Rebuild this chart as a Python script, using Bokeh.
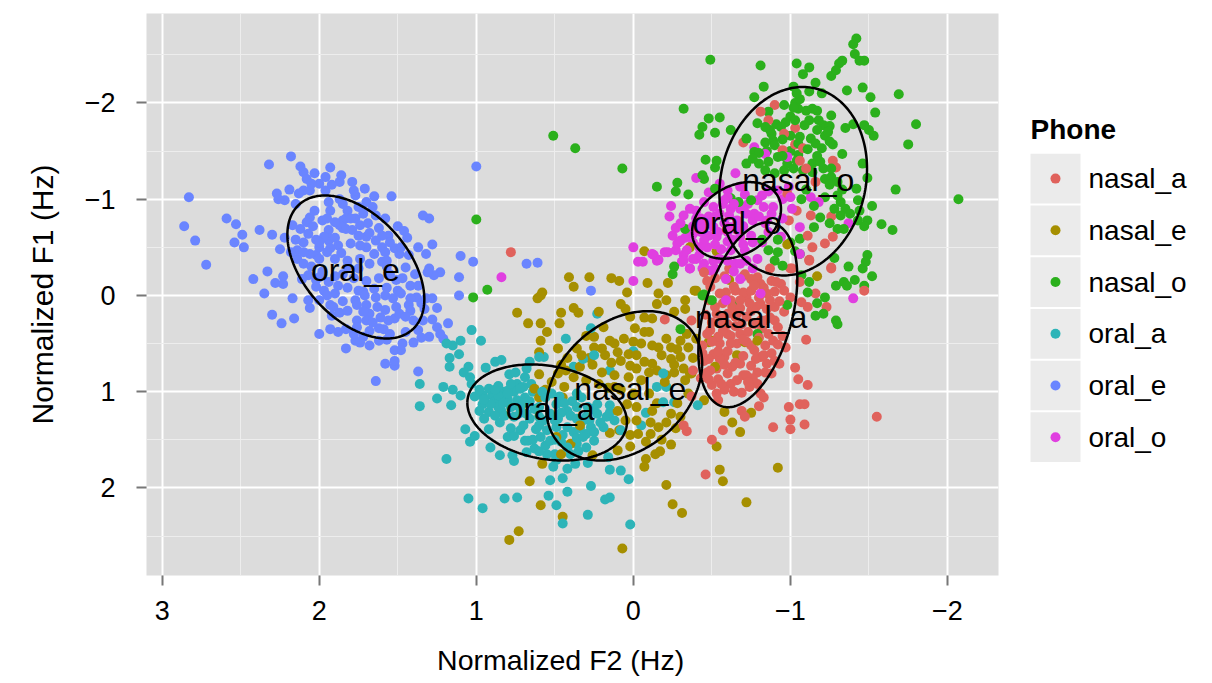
import numpy as np
from bokeh.plotting import figure
from bokeh.layouts import row
from bokeh.models import Range1d, FixedTicker
from bokeh.core.properties import value
from bokeh.embed import file_html
from bokeh.resources import INLINE

phones = ["nasal_a", "nasal_e", "nasal_o", "oral_a", "oral_e", "oral_o"]
colors = ["#E0625C", "#A68F00", "#2BB01C", "#2DB4B8", "#6A85FF", "#E03FE0"]
ticks_x = [3, 2, 1, 0, -1, -2]
ticks_y = [-2, -1, 0, 1, 2]

oral_e = [(2.18,-1.445),(2.32,-1.36),(2.83,-1.02),(2.86,-.72),(2.79,-.57),(2.72,-.32),(2.59,-.80),(2.53,-.74),(2.49,-.63),(2.54,-.55),(2.48,-.50),(2.38,-.68),(2.30,-.63),(2.22,-.60),(2.25,-.48),(2.42,-.17),(2.33,-.25),(2.23,-.20),(2.28,-.13),(2.23,-.12),(2.35,-.02),(2.17,.03),(2.30,.20),(2.24,.29),(2.16,.24),(2.00,.40),(1.93,.35),(1.88,.38),(1.83,.55),(1.77,.47),(1.68,.52),(1.52,.57),(1.58,.71),(1.52,.73),(1.52,.68),(1.64,.89),(1.37,.79),(1.18,.29),(1.11,.00),(1.11,-.19),(1.10,-.41),(1.28,-.53),(1.37,-.50),(1.32,-.43),(1.30,-.80),(1.34,-.83),(1.46,-.67),(1.54,-1.03),(1.65,-1.03),(1.71,-1.11),(1.79,-1.18),(1.86,-1.25),(1.87,-1.18),(1.93,-1.33),(2.12,-1.34),(2.03,-1.27),(1.96,-1.23),(2.19,-1.10),(2.27,-1.06),(2.26,-1.00),(2.22,-.99),
(2.10,-1.28),(2.08,-1.21),(2.05,-1.16),(2.00,-1.16),(2.10,-1.09),(2.06,-1.09),(2.13,-1.06),(1.96,-1.09),(1.94,-.97),(1.93,-.88),(2.03,-.88),(2.06,-.81),(1.82,-.88),(1.77,-1.04),(1.78,-1.09),(1.83,-.80),(1.77,-.80),(1.87,-.73),(1.83,-.69),(1.74,-.73),(1.69,-.75),(1.66,-.92),(1.64,-.83),(1.56,-.62),(1.64,-.57),(1.70,-.61),(1.74,-.52),(1.80,-.54),(1.88,-.52),(1.94,-.68),(1.97,-.61),(1.94,-.57),(2.00,-.50),(1.93,-.49),(2.07,-.64),(2.12,-.69),(2.17,-.73),(2.14,-.47),(2.10,-.45),(2.14,-.38),(2.06,-.43),(1.65,-.43),(1.58,-.45),(1.52,-.49),(1.49,-.43),(1.45,-.29),(1.57,-.36),(1.74,-.38),(1.82,-.36),(1.39,-.22),(1.37,-.10),(1.30,-.28),(1.23,-.24),(1.27,-.21),(1.31,-.24),(1.51,-.16),(2.07,-.21),(2.11,-.17),(2.02,-.09),(1.97,-.05),(1.90,-.02),(1.85,.06),(2.07,.05),(2.06,.13),(1.91,.12),(1.92,.21),(1.83,.35),(1.76,.26),(1.75,-.05),(1.77,.05),(1.71,.00),(1.64,.02),(1.58,.00),(1.53,.03),(1.48,-.02),(1.43,.10),(1.38,.02),(1.32,.03),(1.28,.03),(1.25,.13),(1.28,.25),(1.25,.33),(1.23,.40),(1.21,.45),(1.30,.43),(1.35,.44),(1.40,.49),(1.47,.50),(1.48,.57),(1.57,.46),(1.62,.47),(1.72,.43),(1.74,.49),(1.76,.10),(1.72,.17),(1.68,.19),(1.61,.23),(1.56,.26),(1.66,.28),(1.70,.26),(1.59,.35),(1.51,.12),(1.49,.19),(1.42,.16),(1.40,.26),(1.34,.26),(1.76,.33),(2.00,-.19),(1.94,-.14),(2.02,-.16),
(2.0,-.55),(1.95,-.62),(1.85,-.7),(1.75,-.62),(1.9,-.6),(1.62,-.7),(1.6,-.5),(1.79,-.68),(1.95,-.45),(2.02,-.58),(1.02,-.35),(.68,-.33),(.61,-.34),(.27,-.05),(1.0,-1.34),
(1.95,-.80),(1.90,-.76),(1.85,-.78),(1.80,-.80),(1.72,-.85),(1.68,-.65),(1.60,-.62),(1.55,-.55),(1.48,-.50),(1.43,-.42),(1.60,-.35),(1.68,-.33),(1.75,-.28),(1.82,-.30),(1.90,-.38),(2.00,-.38),(2.10,-.33),(2.05,-.30),(1.98,-.25),(1.90,-.20),(1.85,-.22),(1.78,-.18),(1.70,-.15),(1.62,-.18),(1.55,-.22),(1.47,-.18),(1.42,-.10),(1.50,-.05),(1.57,-.08),(1.65,-.07),(1.72,-.04),(1.82,-.08),(1.88,-.10),(1.95,.00),(2.00,.05),(1.93,.10),(1.87,.18),(1.82,.16),(1.70,.10),(1.63,.12),(1.58,.15),(1.45,.22),(1.52,.24),(1.62,.34),(1.55,.40),(1.45,.38),(1.37,.36),(1.33,.14),(1.35,.08),(1.42,.03),(1.68,.37),(1.78,.40),(2.10,-.55),(2.04,-.72),(1.98,-.78),(2.08,-.76),(2.15,-.58),(2.18,-.45),(2.02,-.42),(1.86,-.44),(1.70,-.50),(1.57,-.30),(1.44,-.60),(1.50,-.72),(1.58,-.80),(1.75,-.92),(1.85,-.95),(1.87,-1.00),(1.92,-1.15),(2.15,-.95),(1.70,-.97)]

oral_a = [(1.03,.36),(.97,.47),(1.10,.47),(1.19,.50),(1.15,.52),(1.17,.65),(1.11,.61),(1.17,.74),(1.05,.74),(1.08,.80),(1.04,.85),(.94,.75),(.88,.69),(.84,.67),(1.36,.92),(1.21,.95),(1.15,.98),(1.25,1.07),(1.36,1.15),(1.16,1.14),(1.10,1.04),(1.03,.92),(1.19,1.70),(1.05,2.11),(.96,2.21),(.82,2.11),(.74,2.10),(.54,2.08),(.42,2.04),(.49,2.18),(.29,2.28),(.45,2.37),(.02,2.38),(.15,2.10),(.18,2.12),(.27,1.98),(.03,1.91),(.08,1.82),(.15,1.81),(.53,1.92),(.45,1.90),(.29,1.74),(.16,1.68),(1.07,1.39),(1.04,1.52),(1.01,1.46),(.91,1.58),(.85,1.66),(.76,1.72),(.80,1.47),(.76,1.46),(.92,1.39),(.69,1.51),(.63,1.59),(.55,1.65),(.51,1.78),(.42,1.80),(.37,1.75),(.68,1.63),(.77,1.66),
(.66,.69),(.57,.64),(.60,.64),(.43,.45),(.23,.19),(.27,.34),(.32,.66),(.25,.62),(.38,.74),(.15,.78),(.00,.58),(-.19,.81),(-.15,.95),(-.21,.95),(-.26,1.11),(-.19,1.11),(-.08,1.22),(-.05,1.35),(-.41,1.14),(.15,1.14),
(.96,1.04),(.92,.97),(.86,.94),(.78,.92),(.74,.92),(.69,.85),(.68,.76),(.72,.97),(.69,1.06),(.80,.99),(.86,1.04),(.91,1.13),(.96,1.13),(.92,1.21),(.86,1.16),(.85,1.32),(.78,1.16),(.74,1.09),(.68,1.23),(.76,1.26),(.62,1.39),(.67,1.51),(.59,1.47),(.53,1.51),(.57,1.30),(.53,1.23),(.49,1.13),(.56,1.06),(.42,1.20),(.36,1.16),(.32,1.30),(.27,1.37),(.23,1.23),(.17,1.26),(.19,1.37),(.32,1.47),(.36,1.54),(.25,1.51),(.42,1.58),(.30,1.58),(.50,1.65),(.49,1.71),(.23,1.13),(.29,1.16),(.42,1.37),(.49,1.37),(.80,1.08),(.72,1.16),(.84,1.20),(.64,1.00),(.60,1.16),(.48,1.28),(.38,1.42),(.70,1.35),
(.98,.98),(.95,1.08),(.90,1.04),(.88,1.10),(.83,1.12),(.80,1.02),(.76,1.00),(.70,.95),(.65,.92),(.88,.98),(.82,1.00),(.83,1.06),(.75,1.14),(.70,1.12),(.66,1.10),(.63,1.18),(.88,1.25),(.82,1.25),(.72,1.22),(.66,1.28),(.60,1.26),(.60,1.35),(.55,1.40),(.50,1.30),(.46,1.22),(.44,1.12),(.39,1.10),(.40,1.25),(.36,1.28),(.34,1.38),(.30,1.26),(.26,1.18),(.21,1.32),(.25,1.42),(.30,1.44),(.36,1.48),(.45,1.45),(.50,1.50),(.56,1.56),(.46,1.52),(.60,1.62),(.64,1.50),(.72,1.40),(.78,1.38),(.95,1.28),(.98,1.20),(1.01,1.05),(.79,.82),(.75,.80),(.58,1.00),(.52,1.02),(.47,1.05),(.33,1.06),(.36,1.02),(.28,1.30),(.15,1.22),(.12,1.30),(.08,1.40),(.40,1.65),(.35,1.62)]

nasal_e = [(.41,-.19),(.28,-.19),(.38,-.09),(.14,-.18),(.09,-.15),(-.09,-.13),(-.22,-.13),(-.07,-.46),(.04,-.03),(-.40,-.05),(.58,-.03),(.61,.03),(.59,.00),(.74,.18),(.67,.29),(.59,.29),(.47,.29),(.46,.18),(.38,.13),(.35,.18),(.22,.17),(.08,.09),(.05,.14),(-.16,-.02),(-.21,.05),(-.15,.09),(-.33,.05),(-.33,.14),(-.26,.17),(.02,.22),(-.07,.23),(-.12,.24),(-.01,.34),(-.07,.38),(-.10,.38),(.55,.38),(.59,.47),(.60,.59),(.48,.55),(.36,.55),(.25,.43),(.19,.33),(.30,.42),(.15,.47),(.25,.54),(.18,.62),(.10,.59),(.03,.61),(-.21,.45),(-.16,.54),(-.24,.54),(-.30,.47),(-.35,.54),(-.30,.64),(-.24,.66),(-.07,.69),(-.12,.71),(.02,.73),(-.02,.76),(.26,.72),(.34,.74),(.60,.82),(.48,.81),(.38,.85),(.30,.88),(.20,.80),(.12,.83),(.03,.85),(-.05,.88),(-.26,.80),(-.21,.83),(-.33,.88),(-.37,.81),(.60,1.06),(.63,.97),(.44,.95),(.45,1.06),(.10,1.20),(.04,1.13),(-.02,1.16),(-.12,1.20),(-.24,1.23),(-.30,1.26),(-.11,1.32),(-.16,1.37),(-.21,1.32),(-.11,1.44),(-.03,1.44),(.15,1.43),(.09,1.40),(.49,1.47),(.34,1.35),(.40,1.54),(.46,1.65),(.26,1.66),(.10,1.61),(.02,1.57),(-.14,1.65),(-.17,1.62),(-.24,1.55),(-.08,1.70),(-.07,1.78),(.58,1.75),(.66,1.93),(-.21,1.97),(-.25,2.17),(-.31,2.26),(.59,2.18),(.45,2.30),(.73,2.45),(.79,2.54),(.07,2.63),(-.53,1.57),(-.55,1.81),(-.57,1.93),(-.58,1.21),(-.45,1.09),(-.50,.47),(-.52,.74),
(-.63,1.32),(-.68,1.42),(-.75,1.22),(-.92,1.79),(-.72,2.15),(-.48,.485),(-.66,.62),(-.71,.485),(-.79,.47),(-.61,-.16),(-.39,-.05),(-.36,.81),(-.36,-.50),(-.53,-.46),(-.98,-.53),(-1.17,-.20),
(-.12,.52),(-.05,.50),(.00,.48),(.06,.45),(.12,.50),(.20,.55),(.28,.65),(.33,.62),(.42,.65),(.46,.72),(.14,.70),(.08,.68),(-.02,.62),(-.18,.62),(-.26,.72),(-.32,.76),(-.28,.56),(-.34,.40),(-.38,.65),(-.40,.45),(-.10,.80),(-.15,.78),(-.20,.90),(-.10,1.02),(.00,1.02),(.08,.98),(.16,.96),(.22,.92),(-.28,1.12),(-.35,1.02),(-.15,1.12),(-.27,1.38),(-.02,1.30),(.02,1.45),(-.08,1.52),(-.18,1.50),(.05,1.30),(.56,.98),(.52,.90),(.43,.78),(.12,.95)]

nasal_a = [(-1.55,1.26),(-1.09,1.34),(-1.00,1.39),(-1.00,1.29),(-.89,1.37),(-.99,1.16),(-1.06,1.13),(-1.09,1.13),(-1.11,.93),(-1.05,.87),(-1.03,.75),(-1.10,.46),(-.93,.71),(-.88,.81),(-.80,1.15),(-.83,1.06),(-.69,1.20),(-.71,1.26),(-.57,1.40),(-.50,1.50),(-.46,1.86),(-.34,1.41),(-.32,1.35),(-.37,1.05),(-.20,.25),(-1.47,-.05),(-1.26,-.28),(-1.23,.12),(-1.16,-.02),(-1.12,-.36),(-1.11,.12),(-1.07,.07),(-.96,.17),(-.97,.54),(-.92,.51),(-.90,.26),(-.87,.05),(-1.00,.02),(-.91,-.14),(-.96,-.05),(-1.01,-.28),(-1.06,-.14),
(-.37,.26),(-.38,.78),(-.45,.68),(-.48,.87),(-.54,.87),(-.53,1.02),(-.54,1.09),(-.62,.92),(-.66,.88),(-.72,.83),(-.79,.80),(-.69,1.01),(-.74,.95),(-.81,1.02),(-.81,.64),(-.85,.71),(-.75,.73),(-.63,.74),(-.58,.64),(-.51,.61),(-.55,.50),(-.62,.50),(-.68,.40),(-.60,.40),(-.54,.43),(-.84,.52),(-.77,.57),(-.69,.30),(-.87,.23),(-.81,.26),(-.75,.16),(-.68,.05),(-.62,.05),(-.55,-.02),(-.49,-.09),(-.64,-.09),(-.75,-.05),(-.81,-.12),(-.85,-.02),(-.81,.09),(-.75,-.17),(-.45,-.24),(-.79,-.19),(-.60,.19),(-.53,.19),(-.66,.19),(-.72,.02),(-.60,.30),(-.49,.78),(-.60,.81),(-.68,.71),(-.75,.52),(-.56,.92),
(-.81,-1.91),(-.90,-1.98),(-.86,-1.82),(-.70,-1.59),(-.96,-1.68),(-1.03,-1.74),(-1.03,-1.57),(-1.08,-1.53),(-.95,-1.51),(-1.27,-1.40),(-1.29,-1.33),(-1.06,-1.40),(-1.10,-1.32),(-1.16,-1.18),(-.98,-1.06),(-1.04,-.88),(-1.13,-.83),(-1.26,-.82),(-.99,-.78),(-1.11,-.62),(-1.27,-.61),(-1.22,-.54),(-1.14,-.50),(-1.12,-.37),(-1.26,-.29),(-1.00,-.28),(-.94,-.12),(-.87,-.28),(-.77,-.12),(-.61,-.28),(-.45,-.26),(.78,-.45),
(-.47,-.15),(-.52,-.18),(-.58,-.20),(-.71,-.22),(-.77,-.10),(-.83,-.08),(-.88,-.15),(-.90,-.04),(-.93,.06),(-.90,.12),(-.85,.14),(-.80,.02),(-.74,.08),(-.70,-.03),(-.65,-.05),(-.59,-.03),(-.57,.08),(-.52,.12),(-.48,.05),(-.46,.20),(-.50,.28),(-.56,.30),(-.63,.12),(-.68,.13),(-.72,.22),(-.77,.30),(-.82,.34),(-.86,.40),(-.92,.33),(-.95,.42),(-.89,.47),(-.80,.44),(-.73,.38),(-.65,.32),(-.57,.37),(-.50,.48),(-.47,.40),(-.44,.52),(-.44,.60),(-.48,.66),(-.54,.58),(-.60,.58),(-.66,.50),(-.72,.48),(-.70,.63),(-.78,.66),(-.83,.62),(-.88,.60),(-.90,.68),(-.84,.80),(-.76,.86),(-.70,.83),(-.65,.70),(-.58,.72),(-.53,.76),(-.47,.80),(-.43,.86),(-.50,.93),(-.58,.98),(-.64,1.00),(-.73,.90),(-.79,.92),(-.55,.66),(-.62,.42),(-.70,.46),(-.78,.12),(-.84,.26),(-.65,.22),(-.57,.22),(-.49,.36)]

nasal_o = [(-1.42,-2.67),(-1.40,-2.61),(-1.41,-2.51),(-1.44,-2.44),(-1.47,-2.44),(-1.33,-2.44),(-1.31,-2.41),(-1.29,-2.34),(-1.26,-2.28),(-1.12,-2.37),(-1.04,-2.41),(-1.08,-2.30),(-.81,-2.39),(-.49,-2.45),(-.83,-2.17),(-.77,-2.06),(-1.16,-2.21),(-1.02,-2.17),(-1.12,-2.12),(-1.20,-2.10),(-1.36,-2.13),(-1.46,-2.16),(-1.51,-2.06),(-1.69,-2.09),(-1.54,-1.90),(-1.80,-1.78),(-1.75,-1.57),(-.32,-1.94),(-.48,-1.84),(-.55,-1.85),(-.44,-1.75),(-.42,-1.67),(-.52,-1.69),(-.62,-1.72),(-.46,-1.41),(-.53,-1.40),(-.52,-1.33),(-.45,-1.21),(-.44,-1.25),(-.28,-1.17),(-.15,-1.13),(-.27,-1.08),(-.35,-1.05),(-.52,-1.11),(-2.07,-1.00),(-1.67,-1.10),(-1.42,-1.11),(-1.49,-1.22),(-1.46,-1.37),(-1.52,-.93),(-1.58,-.74),(-1.65,-.68),(-1.49,-.78),(-1.47,-.72),(-1.43,-.78),(-1.43,-.99),(-1.44,-.88),(-1.53,-1.66),(-1.50,-1.72),(-1.47,-1.77),(-1.40,-1.78),(-1.35,-1.74),(-1.33,-1.47),(-1.27,-1.57),(-1.20,-1.53),
(-1.05,-1.94),(-1.06,-2.04),(-.96,-1.98),(-.86,-1.91),(-.79,-1.79),(-1.00,-1.86),(-1.14,-1.94),(-1.17,-1.92),(-1.26,-1.87),(-1.12,-1.82),(-1.09,-1.77),(-1.21,-1.77),(-1.25,-1.76),(-1.22,-1.66),(-1.13,-1.63),(-1.06,-1.65),(-1.00,-1.66),(-.94,-1.75),(-.87,-1.72),(-.89,-1.61),(-.84,-1.59),(-.77,-1.49),(-.72,-1.63),(-.72,-1.37),(-.80,-1.37),(-.86,-1.39),(-.92,-1.44),(-.98,-1.37),(-1.04,-1.40),(-1.14,-1.37),(-1.19,-1.39),(-1.21,-1.32),(-1.26,-1.23),(-1.22,-1.21),(-1.30,-1.04),(-1.32,-.97),(-1.07,-1.00),(-1.15,-.93),(-1.19,-.81),(-1.25,-.75),(-1.30,-.69),(-1.34,-.69),(-1.32,-.83),(-1.15,-.71),(-1.06,-.59),(-1.28,-.39),(-1.37,-.30),(-1.46,-.28),(-1.49,-.42),(-1.48,-.35),(-1.52,-.2),(-1.41,-.16),(-1.34,-.14),(-1.29,-.10),(-1.36,-.10),(-1.47,-.10),(-1.12,-.14),(-.86,-.47),(-.92,-.45),(-.90,-.36),(-.95,-.31),(-.33,-.69),(-.26,-.30),(-.25,-.22),(-.62,-1.01),(-.67,-.97),(-.75,-.99),(-1.06,-.43),
(-1.29,.26),(-1.30,.30),(-1.21,.19),(-1.16,.21),(-1.17,.08),(-1.22,.02),(-1.11,-.03),(-1.07,-.21),(-.98,.10),(-.45,-.01),(-.50,.05),(-.66,.10),(-.79,.40),(-.30,.35),(.93,-.06),(1.02,.02),(-.44,.00),(.51,-1.66),(.37,-1.53),(.07,-1.32),(1.0,-.79),
(-.88,-1.68),(-.84,-1.75),(-.91,-1.78),(-.97,-1.80),(-1.03,-1.82),(-.95,-1.62),(-.90,-1.56),(-.85,-1.50),(-.80,-1.48),(-.95,-1.45),(-1.00,-1.50),(-1.05,-1.58),(-1.11,-1.52),(-1.16,-1.58),(-1.17,-1.72),(-1.18,-1.82),(-1.24,-1.70),(-1.25,-1.60),(-1.10,-1.92),(-1.03,-2.00),(-1.02,-1.95),(-1.04,-2.10),(-.90,-1.27),(-.84,-1.30),(-.76,-1.42),(-.96,-1.30),(-1.02,-1.32),(-1.08,-1.30),(-1.14,-1.28),(-1.17,-1.45),(-1.05,-1.46),(-1.26,-1.32),(-1.25,-1.15),(-1.30,-1.18),(-1.33,-1.10),(-1.35,-.90),(-1.38,-.85),(-1.28,-.90),(-1.22,-1.02),(-1.10,-1.10),(-.82,-.58),(-.92,-.58),(-1.00,-.55),(-1.03,-.46)]

oral_o = [(.00,-.50),(-.03,-.35),(-.06,-.35),(-.12,-.43),(-.15,-.36),(.00,-.15),(.84,-.19),(-.22,-.45),(-.27,-.47),(-.32,-.42),(-.31,-.35),(-.36,-.28),(-.45,-.33),(-.51,-.36),(-.38,-.38),(-.59,.05),
(-.24,-.93),(-.23,-.82),(-.40,-1.22),(-.55,-1.16),(-.65,-1.27),(-.77,-1.54),(-.84,-1.47),(-.98,-1.44),(-.32,-.83),(-.36,-.90),(-.45,-.97),(-.48,-1.07),(-.60,-1.09),(-.68,-1.13),(-.82,-1.04),(-.92,-1.09),(-.99,-1.13),(-1.13,-1.02),(-1.18,-.97),(-1.01,-.90),(-1.06,-.71),(-1.37,-.75),(-.25,-.62),(-.30,-.57),(-.20,-.45),(-.13,-.42),(-.16,-.37),(-.32,-.36),(-.36,-.28),(-.44,-.28),(-.38,-.64),(-.45,-.57),(-.45,-.74),(-.51,-.71),(-.55,-.85),(-.62,-.71),(-.53,-.61),(-.60,-.56),(-.68,-.61),(-.77,-.85),(-.70,-.92),(-.62,-.90),(-.51,-.92),(-.83,-.92),(-.89,-.92),(-.94,-.61),(-.86,-.66),(-.79,-.38),(-.71,-.47),(-.51,-.36),(-.49,-.26),(-.75,-.62),(-.62,-.47),(-.68,-.33),(-.59,-.17),(-1.06,-.43),(-.79,-.99),(-1.00,-1.02),(-.66,-.78),(-.58,-.99),(-.41,-.71),(-.47,-.50),(-.28,-.54),(-.34,-.47),
(-1.40,.03),(-.59,.05),(-.81,-.02),(-.68,-.17),(-.65,-.33),(-.31,-.35),(-.72,-.85),(-.58,-.75),(-.85,-.78),(-.66,-.95),(-.48,-.82),(-.40,-.80),(-.95,-1.00),
(-.40,-.88),(-.43,-.80),(-.48,-.75),(-.52,-.82),(-.57,-.95),(-.61,-.83),(-.64,-.95),(-.68,-.90),(-.73,-.95),(-.76,-.78),(-.80,-.82),(-.84,-.75),(-.70,-.72),(-.66,-.68),(-.60,-.66),(-.54,-.66),(-.48,-.62),(-.43,-.66),(-.38,-.72),(-.34,-.68),(-.33,-.60),(-.38,-.55),(-.42,-.50),(-.52,-.53),(-.56,-.48),(-.63,-.58),(-.70,-.53),(-.76,-.55),(-.82,-.55),(-.42,-.42),(-.55,-.38),(-.60,-.36),(-.72,-.36),(-.76,-.28),(-.64,-.25),(-.52,-.28),(-.40,-.38),(-.60,-1.02),(-.71,-1.05),(-.86,-1.08),(-.88,-.85),(-.95,-.80),(-.30,-.75),(-.27,-.70),(-.70,-.20)]

# each ellipse: centre x, centre y, half extent x, half extent y, correlation
ell_oral_e = (1.767, -.296, .436, .743, -.45)
ell_oral_a = (.549, 1.216, .508, .499, -.20)
ell_nasal_e = (.058, .939, .496, .776, .30)
ell_nasal_a = (-.729, .201, .315, .96, .40)
ell_nasal_o = (-1.018, -1.187, .470, .979, .13)
ell_oral_o = (-.657, -.78, .283, .398, .30)

label_names = ["oral_e", "oral_a", "nasal_e", "nasal_a", "nasal_o", "oral_o"]
label_x = [1.77, .53, .02, -.75, -1.05, -.66]
label_y = [-.26, 1.18, .97, .22, -1.2, -.75]

FONT = "Liberation Sans"
W, H = 1008, 675
# trailing no-break spaces move the centred x title left of the panel's centre, as in the reference
p = figure(width=W, height=H, output_backend="svg", toolbar_location=None,
           x_range=Range1d(3.10, -2.325), y_range=Range1d(2.91, -2.93),
           x_axis_label="Normalized F2 (Hz)" + "\u00a0" * 3, y_axis_label="Normalized F1 (Hz)",
           frame_width=852, frame_height=562,
           min_border_left=146, min_border_right=10, min_border_top=13, min_border_bottom=100)
p.background_fill_color = "#DCDCDC"
p.outline_line_color = None
p.xaxis.ticker = FixedTicker(ticks=ticks_x, minor_ticks=[v + .5 for v in range(-3, 3)])
p.yaxis.ticker = FixedTicker(ticks=ticks_y, minor_ticks=[v + .5 for v in range(-3, 3)])
minus = {v: str(v).replace("-", "\u2212") for v in set(ticks_x + ticks_y)}
for ax in (p.xaxis[0], p.yaxis[0]):
    ax.major_label_overrides = minus
    ax.axis_line_color = None
    ax.major_tick_line_color = "#777777"
    ax.major_tick_line_width = 2
    ax.major_tick_out = 10
    ax.major_tick_in = 0
    ax.minor_tick_out = 0
    ax.minor_tick_in = 0
    ax.major_label_text_font = FONT
    ax.major_label_text_font_size = "27px"
    ax.major_label_text_color = "black"
    ax.axis_label_text_font = FONT
    ax.axis_label_text_font_style = "normal"
    ax.axis_label_text_color = "black"
p.xaxis[0].axis_label_text_font_size = "28.5px"
p.yaxis[0].axis_label_text_font_size = "30px"
p.xaxis[0].major_label_standoff = 15
p.yaxis[0].major_label_standoff = 21
p.xaxis[0].axis_label_standoff = 21
p.yaxis[0].axis_label_standoff = 23
for g in (p.xgrid[0], p.ygrid[0]):
    g.grid_line_color = "white"
    g.grid_line_width = 2
    g.minor_grid_line_color = "#EDEDED"
    g.minor_grid_line_width = 1

groups = [("oral_e", oral_e), ("oral_a", oral_a), ("nasal_e", nasal_e),
          ("nasal_a", nasal_a), ("oral_o", oral_o), ("nasal_o", nasal_o)]
# the reference's points are overlaid in mixed order, so draw the series in interleaved passes
PASSES = 4
for k in range(PASSES):
    for name, pts in groups:
        a = np.array(pts)[k::PASSES]
        p.scatter(a[:, 0], a[:, 1], size=10, color=colors[phones.index(name)], line_color=None, marker="circle")

t = np.linspace(0, 2 * np.pi, 240)
for cx, cy, sx, sy, r in (ell_oral_e, ell_oral_a, ell_nasal_e, ell_nasal_a, ell_nasal_o, ell_oral_o):
    d = np.arccos(r)
    p.line(cx + sx * np.cos(t), cy + sy * np.cos(t - d), line_color="black", line_width=2.5)

p.text(label_x, label_y, text=label_names, text_font=value(FONT), text_font_size="32px",
       text_align="center", text_baseline="middle", text_color="black")

# legend panel: its frame lines up with the main panel's, so its range follows that frame's pixels
LW = 192
leg = figure(width=LW, height=H, output_backend="svg", toolbar_location=None,
             x_range=Range1d(0, LW), y_range=Range1d(575, 13), x_axis_type=None, y_axis_type=None,
             min_border=0, outline_line_color=None)
leg.grid.visible = False
ys = [179 + 52 * i for i in range(len(phones))]
leg.rect([47] * 6, ys, width=50, height=50, fill_color="#EBEBEB", line_color=None)
leg.scatter([47] * 6, ys, size=10, color=colors, line_color=None, marker="circle")
leg.text([80] * 6, ys, text=phones, text_font=value(FONT), text_font_size="28px",
         text_baseline="middle", text_color="black")
leg.text([22], [130], text=["Phone"], text_font=value(FONT), text_font_size="28px",
         text_font_style="bold", text_baseline="middle", text_color="black")

open("out.html", "w").write(file_html(row(p, leg, spacing=0), INLINE))
